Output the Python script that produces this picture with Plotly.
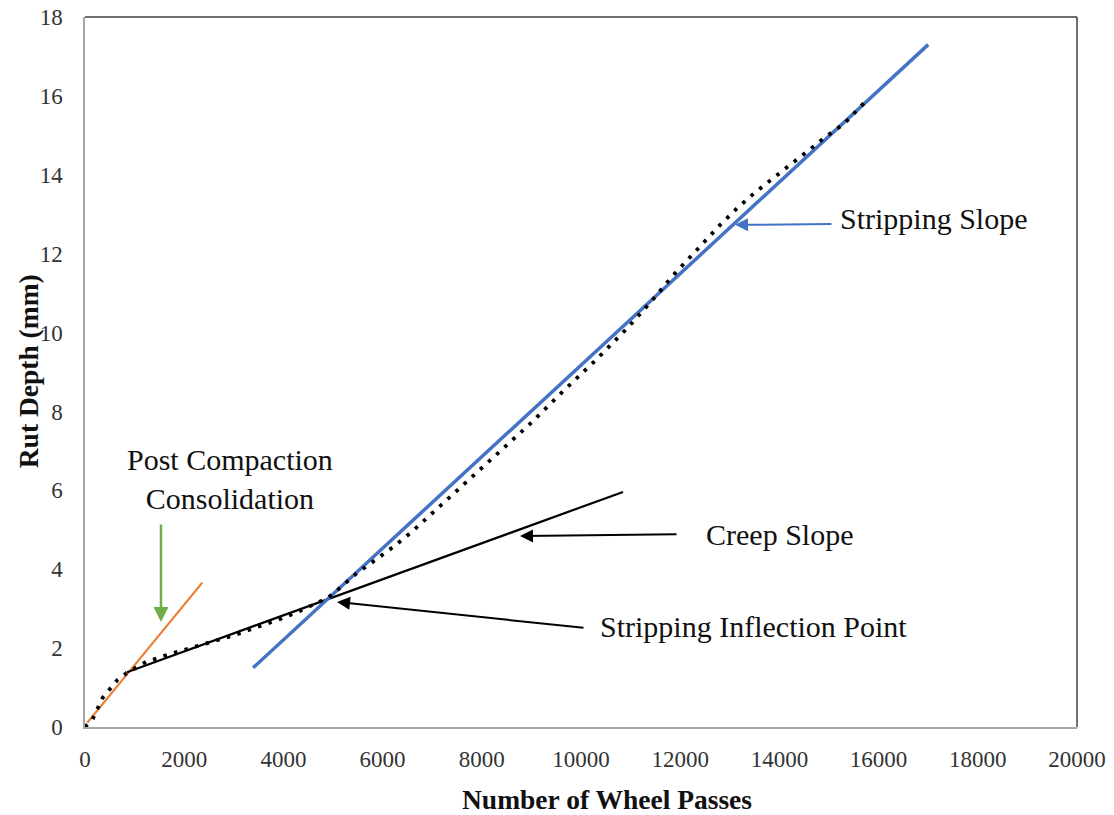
import plotly.graph_objects as go

# Measured rut depth curve (dotted)
passes = [0, 150, 356, 650, 840, 1230, 1660, 2100, 2550, 2990, 3460, 3880, 4300,
          4700, 4900, 5070, 5480, 5850, 6220, 6590, 6920, 7260, 7600, 8290, 8960,
          9620, 10280, 10940, 11410, 11850, 12320, 12790, 13130, 13470, 13830,
          14200, 14560, 14920, 15320, 15620, 15800]
rut = [0, 0.19, 0.74, 1.19, 1.37, 1.65, 1.83, 2.0, 2.16, 2.32, 2.53, 2.71, 2.92,
       3.15, 3.28, 3.45, 3.9, 4.23, 4.57, 4.95, 5.33, 5.71, 6.1, 6.88, 7.67,
       8.49, 9.28, 10.12, 10.78, 11.44, 12.07, 12.71, 13.13, 13.51, 13.87,
       14.25, 14.59, 14.95, 15.31, 15.71, 15.94]

# Fitted lines
pcc_x = [47, 2365]
pcc_y = [0.11, 3.66]
creep_x = [847, 10847]
creep_y = [1.39, 5.96]
strip_x = [3390, 17000]
strip_y = [1.5, 17.3]

x_ticks = list(range(0, 20001, 2000))
y_ticks = list(range(0, 19, 2))

SERIF = "Liberation Serif, Times New Roman, serif"
BLUE = "#4472C4"
ORANGE = "#ED7D31"
GREEN = "#70AD47"

fig = go.Figure()
fig.add_trace(go.Scatter(x=pcc_x, y=pcc_y, mode="lines",
                         line=dict(color=ORANGE, width=2.2), showlegend=False))
fig.add_trace(go.Scatter(x=creep_x, y=creep_y, mode="lines",
                         line=dict(color="black", width=2.2), showlegend=False))
fig.add_trace(go.Scatter(x=strip_x, y=strip_y, mode="lines",
                         line=dict(color=BLUE, width=3.5), showlegend=False))
fig.add_trace(go.Scatter(x=passes, y=rut, mode="lines", cliponaxis=False,
                         line=dict(color="black", width=3.8, dash="3.5px,7.5px"),
                         showlegend=False))

anns = []


def arrow(hx, hy, tx, ty, color, width, size):
    anns.append(dict(x=hx, y=hy, ax=tx, ay=ty, xref="x", yref="y", axref="x", ayref="y",
                     text="", showarrow=True, arrowhead=2, arrowsize=size,
                     arrowwidth=width, arrowcolor=color, standoff=0, startstandoff=0))


arrow(13105, 12.73, 15080, 12.75, BLUE, 2, 1.3)
arrow(8770, 4.84, 11956, 4.89, "black", 2, 1.3)
arrow(5081, 3.17, 10081, 2.51, "black", 2, 1.3)
arrow(1532, 2.66, 1532, 5.17, GREEN, 2.5, 1.2)


def label(x, y, text, anchor="left"):
    anns.append(dict(x=x, y=y, xref="x", yref="y", text=text, showarrow=False,
                     xanchor=anchor, yanchor="middle",
                     font=dict(family=SERIF, size=30, color="#111111")))


label(15180, 12.9, "Stripping Slope")
label(12480, 4.89, "Creep Slope")
label(10343, 2.54, "Stripping Inflection Point")
label(2923, 6.28, "Post Compaction<br>Consolidation", anchor="center")

# axis titles (positions relative to plot area)
anns.append(dict(x=0.526, y=-0.1025, xref="paper", yref="paper",
                 text="<b>Number of Wheel Passes</b>", showarrow=False,
                 xanchor="center", yanchor="middle",
                 font=dict(family=SERIF, size=27.5, color="#111111")))
anns.append(dict(x=-0.0575, y=0.501, xref="paper", yref="paper",
                 text="<b>Rut Depth (mm)</b>", showarrow=False, textangle=-90,
                 xanchor="center", yanchor="middle",
                 font=dict(family=SERIF, size=27.5, color="#111111")))

fig.update_layout(
    width=1114, height=815,
    margin=dict(l=85, r=37, t=17, b=88, autoexpand=False),
    paper_bgcolor="white", plot_bgcolor="white",
    annotations=anns,
    xaxis=dict(range=[0, 20000], tickvals=x_ticks, ticktext=[str(v) for v in x_ticks],
               showgrid=False, zeroline=False, showline=True, linecolor="#A6A6A6",
               linewidth=1.5, ticks="outside", ticklen=11, tickcolor="rgba(0,0,0,0)",
               automargin=False, ticklabeloverflow="allow",
               tickfont=dict(family=SERIF, size=23, color="#333333")),
    yaxis=dict(range=[0, 18], tickvals=y_ticks, ticktext=[str(v) for v in y_ticks],
               showgrid=False, zeroline=False, showline=True, linecolor="#A6A6A6",
               linewidth=1.5, ticks="outside", ticklen=16, tickcolor="rgba(0,0,0,0)",
               automargin=False, ticklabeloverflow="allow",
               tickfont=dict(family=SERIF, size=23, color="#333333")),
    shapes=[
        dict(type="line", xref="paper", yref="paper", x0=0, x1=1, y0=1, y1=1,
             line=dict(color="#404040", width=1.5)),
        dict(type="line", xref="paper", yref="paper", x0=1, x1=1, y0=0, y1=1,
             line=dict(color="#404040", width=1.5)),
    ],
)

fig.write_html("out.html", config={"displayModeBar": False},
               post_script="document.body.style.margin='0';document.body.style.overflow='hidden';")
